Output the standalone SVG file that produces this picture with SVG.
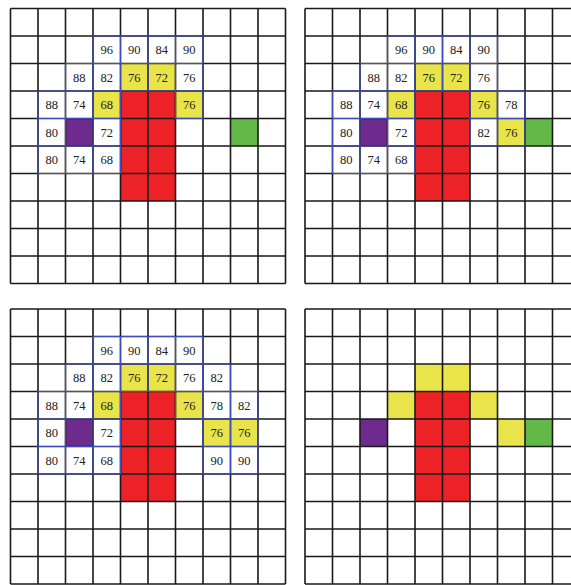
<svg xmlns="http://www.w3.org/2000/svg" xmlns:xlink="http://www.w3.org/1999/xlink" width="571" height="585" viewBox="0 0 571 585" font-family="'Liberation Serif', 'Times New Roman', serif">
<style>
.r{fill:#ED2226}.y{fill:#E8E44A}.p{fill:#6E2A8C}.g{fill:#62B947}
.gl{fill:none;stroke:#1a1a1a;stroke-width:1.6}
.b{fill:none;stroke:#3F4DBA;stroke-width:1.1}
.t{font-family:'Liberation Serif','Times New Roman',serif;font-size:12.5px;fill:#222;text-anchor:middle}
</style>
<defs>
<path id="grid" class="gl" d="M0,0V275M27.5,0V275M55,0V275M82.5,0V275M110,0V275M137.5,0V275M165,0V275M192.5,0V275M220,0V275M247.5,0V275M275,0V275M0,0H275M0,27.5H275M0,55H275M0,82.5H275M0,110H275M0,137.5H275M0,165H275M0,192.5H275M0,220H275M0,247.5H275M0,275H275"/>
<g id="base">
<rect class="r" x="110" y="82.5" width="55" height="110"/>
<rect class="y" x="110" y="55" width="55" height="27.5"/>
<rect class="y" x="82.5" y="82.5" width="27.5" height="27.5"/>
<rect class="p" x="55" y="110" width="27.5" height="27.5"/>
</g>
<g id="leftnums" class="t">
<path class="b" d="M82.5,27.5h110v27.5h-110zM110,27.5v27.5M137.5,27.5v27.5M165,27.5v27.5M55,55h137.5v27.5h-137.5zM82.5,55v27.5M110,55v27.5M137.5,55v27.5M165,55v27.5M27.5,82.5h82.5v82.5h-82.5zM55,82.5v82.5M82.5,82.5v82.5M27.5,110h82.5M27.5,137.5h82.5M165,82.5h27.5v27.5h-27.5z"/>
<text x="96.25" y="45.5">96</text><text x="123.75" y="45.5">90</text><text x="151.25" y="45.5">84</text><text x="178.75" y="45.5">90</text>
<text x="68.75" y="73">88</text><text x="96.25" y="73">82</text><text x="123.75" y="73">76</text><text x="151.25" y="73">72</text><text x="178.75" y="73">76</text>
<text x="41.25" y="100.5">88</text><text x="68.75" y="100.5">74</text><text x="96.25" y="100.5">68</text><text x="178.75" y="100.5">76</text>
<text x="41.25" y="128">80</text><text x="96.25" y="128">72</text>
<text x="41.25" y="155.5">80</text><text x="68.75" y="155.5">74</text><text x="96.25" y="155.5">68</text>
</g>
</defs>
<rect width="571" height="585" fill="#fff"/>
<g id="grid-top-left" transform="translate(10.5,8.5)">
<use xlink:href="#base"/>
<rect class="y" x="165" y="82.5" width="27.5" height="27.5"/>
<rect class="g" x="220" y="110" width="27.5" height="27.5"/>
<use xlink:href="#grid"/>
<use xlink:href="#leftnums"/>
</g>
<g id="grid-top-right" transform="translate(305,8.5)">
<use xlink:href="#base"/>
<rect class="y" x="165" y="82.5" width="27.5" height="27.5"/>
<rect class="y" x="192.5" y="110" width="27.5" height="27.5"/>
<rect class="g" x="220" y="110" width="27.5" height="27.5"/>
<use xlink:href="#grid"/>
<use xlink:href="#leftnums"/>
<g class="t">
<path class="b" d="M192.5,82.5h27.5v27.5h-27.5zM165,110h55v27.5h-55zM192.5,110v27.5"/>
<text x="206.25" y="100.5">78</text>
<text x="178.75" y="128">82</text><text x="206.25" y="128">76</text>
</g>
</g>
<g id="grid-bottom-left" transform="translate(10.5,309)">
<use xlink:href="#base"/>
<rect class="y" x="165" y="82.5" width="27.5" height="27.5"/>
<rect class="y" x="192.5" y="110" width="55" height="27.5"/>
<use xlink:href="#grid"/>
<use xlink:href="#leftnums"/>
<g class="t">
<path class="b" d="M192.5,55h27.5v27.5h-27.5zM192.5,82.5h55v82.5h-55zM220,82.5v82.5M192.5,110h55M192.5,137.5h55"/>
<text x="206.25" y="73">82</text>
<text x="206.25" y="100.5">78</text><text x="233.75" y="100.5">82</text>
<text x="206.25" y="128">76</text><text x="233.75" y="128">76</text>
<text x="206.25" y="155.5">90</text><text x="233.75" y="155.5">90</text>
</g>
</g>
<g id="grid-bottom-right" transform="translate(305,309)">
<use xlink:href="#base"/>
<rect class="y" x="165" y="82.5" width="27.5" height="27.5"/>
<rect class="y" x="192.5" y="110" width="27.5" height="27.5"/>
<rect class="g" x="220" y="110" width="27.5" height="27.5"/>
<use xlink:href="#grid"/>
</g>
</svg>
